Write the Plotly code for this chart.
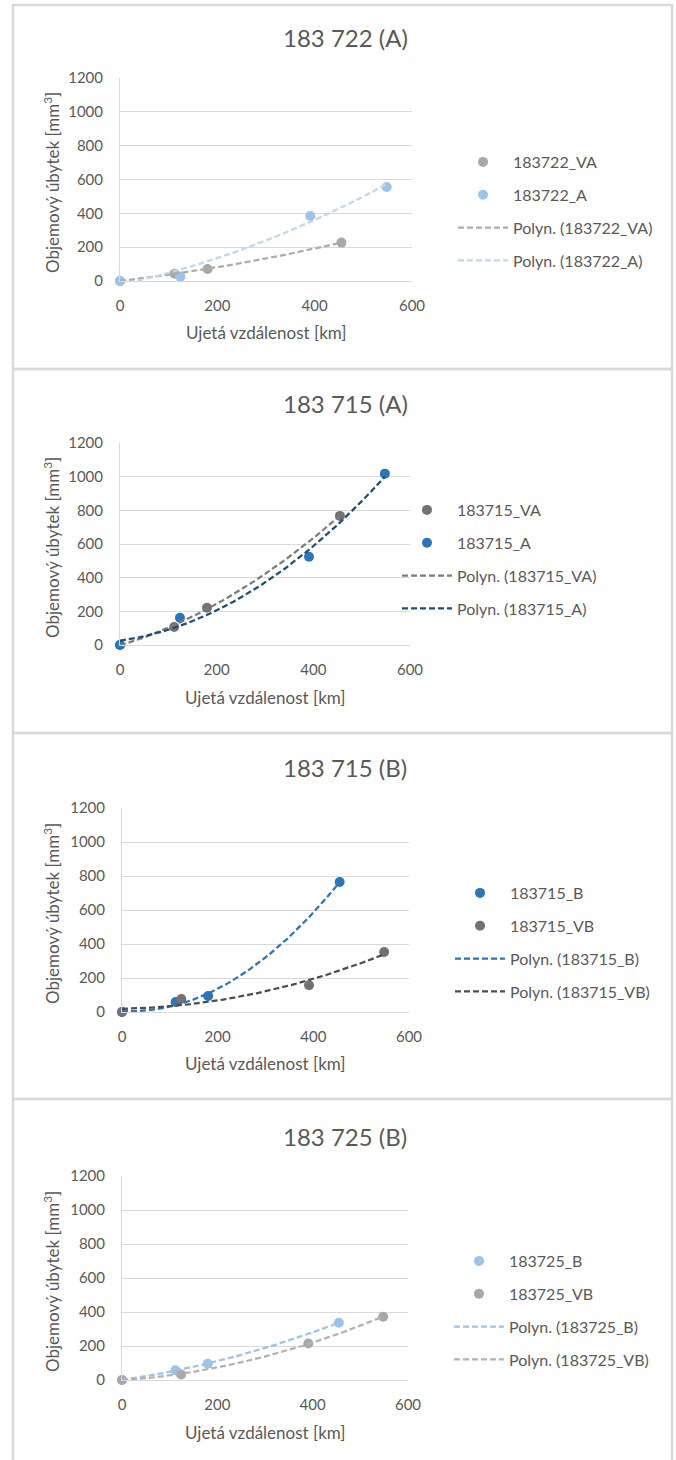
import numpy as np
import plotly.graph_objects as go

W, H = 676, 1460
FONT = "Lato"
TXT = "#595959"
GRID = "#d9d9d9"

# ---------------- data ----------------
titles = ["183 722 (A)", "183 715 (A)", "183 715 (B)", "183 725 (B)"]
x_title = "Ujetá vzdálenost [km]"
y_title = "Objemový úbytek [mm<sup>3</sup>]"
x_ticks = [0, 200, 400, 600]
y_ticks = [0, 200, 400, 600, 800, 1000, 1200]

dist_1 = [0, 112, 180, 455]
dist_2 = [0, 124, 391, 548]

# panel 1 : 183 722 (A)
p1_names = ["183722_VA", "183722_A"]
p1_va = [0, 43, 71, 227]
p1_a = [0, 26, 384, 556]
# panel 2 : 183 715 (A)
p2_names = ["183715_VA", "183715_A"]
p2_va = [0, 107, 221, 767]
p2_a = [0, 162, 524, 1018]
# panel 3 : 183 715 (B)
p3_names = ["183715_B", "183715_VB"]
p3_b = [0, 59, 94, 765]
p3_vb = [0, 76, 157, 353]
# panel 4 : 183 725 (B)
p4_names = ["183725_B", "183725_VB"]
p4_b = [0, 57, 96, 337]
p4_vb = [0, 33, 215, 372]

# series per panel: (name, x, y, marker colour, trend colour)
panel_series = [
    [(p1_names[0], dist_1, p1_va, "#aaa7a7", "#aeabab"),
     (p1_names[1], dist_2, p1_a, "#9dc3e6", "#bdd7ee")],
    [(p2_names[0], dist_1, p2_va, "#767171", "#7f7b7b"),
     (p2_names[1], dist_2, p2_a, "#2e75b6", "#1f4e79")],
    [(p3_names[0], dist_1, p3_b, "#2e75b6", "#2e75b6"),
     (p3_names[1], dist_2, p3_vb, "#767171", "#4d4d4d")],
    [(p4_names[0], dist_1, p4_b, "#9dc3e6", "#9dc3e6"),
     (p4_names[1], dist_2, p4_vb, "#aaa7a7", "#b4b1b1")],
]

# ---------------- layout geometry (pixels) ----------------
geo = [
    dict(plot=(120, 412, 78, 281), title=(345, 38), xt=(266, 332), yt=(51, 183), leg=(453, 145), box=(5, 369)),
    dict(plot=(120, 410, 443, 645), title=(345, 403), xt=(265, 697), yt=(51, 548), leg=(397, 493), box=(369, 733)),
    dict(plot=(122, 409, 808, 1012), title=(345, 767), xt=(265, 1063), yt=(51, 914), leg=(450, 876), box=(733, 1099)),
    dict(plot=(122, 408, 1176, 1380), title=(345, 1136), xt=(265, 1432), yt=(51, 1282), leg=(449, 1244), box=(1099, 1470)),
]


def px(x):
    return x / W


def py(y):
    return 1 - y / H


fig = go.Figure()
layout = dict(
    width=W, height=H, margin=dict(l=0, r=0, t=0, b=0, autoexpand=False),
    paper_bgcolor="white", plot_bgcolor="white",
    font=dict(family=FONT, color=TXT, size=14),
    annotations=[], shapes=[],
)

for i, (series, g) in enumerate(zip(panel_series, geo)):
    k = "" if i == 0 else str(i + 1)
    xa, ya = "x" + k, "y" + k
    leg = "legend" + k
    x0, x1, y0, y1 = g["plot"]
    # markers
    for name, xs, ys, mc, tc in series:
        fig.add_trace(go.Scatter(
            x=xs, y=ys, mode="markers", name=name, xaxis=xa, yaxis=ya,
            marker=dict(size=10, color=mc), cliponaxis=False,
            legend=leg, legendgroup=name + "_m", showlegend=True))
    # polynomial (order 2) trend lines
    for name, xs, ys, mc, tc in series:
        coef = np.polyfit(xs, ys, 2)
        xx = np.linspace(min(xs), max(xs), 120)
        fig.add_trace(go.Scatter(
            x=xx, y=np.polyval(coef, xx), mode="lines",
            name="Polyn. (" + name + ")", xaxis=xa, yaxis=ya,
            line=dict(color=tc, width=2.25, dash="6px,3px"),
            cliponaxis=False, legend=leg, legendgroup=name + "_t"))

    layout["xaxis" + k] = dict(
        domain=[px(x0), px(x1)], range=[0, 600], tickvals=x_ticks,
        showgrid=False, zeroline=False, showline=True, linecolor=GRID, linewidth=1,
        ticks="outside", ticklen=11, tickcolor="rgba(0,0,0,0)",
        tickfont=dict(size=15, color=TXT), anchor=ya, fixedrange=True, automargin=False)
    layout["yaxis" + k] = dict(
        domain=[py(y1), py(y0)], range=[0, 1200], tickvals=y_ticks,
        showgrid=True, gridcolor=GRID, gridwidth=1, zeroline=False,
        showline=True, linecolor=GRID, linewidth=1,
        ticks="outside", ticklen=13, tickcolor="rgba(0,0,0,0)",
        tickfont=dict(size=15, color=TXT), anchor=xa, fixedrange=True, automargin=False)
    lx, ly = g["leg"]
    layout[leg] = dict(
        x=px(lx), y=py(ly), xanchor="left", yanchor="top",
        bgcolor="rgba(0,0,0,0)", borderwidth=0, itemwidth=50,
        tracegroupgap=9, font=dict(size=16, color=TXT, family=FONT),
        itemclick=False, itemdoubleclick=False)

    tx, ty = g["title"]
    layout["annotations"].append(dict(
        text=titles[i], x=px(tx), y=py(ty), xref="paper", yref="paper",
        showarrow=False, xanchor="center", yanchor="middle",
        font=dict(size=24, color=TXT, family=FONT)))
    ax_, ay_ = g["xt"]
    layout["annotations"].append(dict(
        text=x_title, x=px(ax_), y=py(ay_), xref="paper", yref="paper",
        showarrow=False, xanchor="center", yanchor="middle",
        font=dict(size=17, color=TXT, family=FONT)))
    bx, by = g["yt"]
    layout["annotations"].append(dict(
        text=y_title, x=px(bx), y=py(by), xref="paper", yref="paper",
        showarrow=False, xanchor="center", yanchor="middle", textangle=-90,
        font=dict(size=17, color=TXT, family=FONT)))

    bt, bb = g["box"]
    layout["shapes"].append(dict(
        type="rect", xref="paper", yref="paper",
        x0=px(13), x1=px(672), y0=py(bb), y1=py(bt),
        line=dict(color=GRID, width=2.5), fillcolor="rgba(0,0,0,0)", layer="below"))

fig.update_layout(**layout)
fig.write_html(
    "out.html",
    config={"displayModeBar": False},
    post_script="document.body.style.margin='0';document.body.style.overflow='hidden';",
)
